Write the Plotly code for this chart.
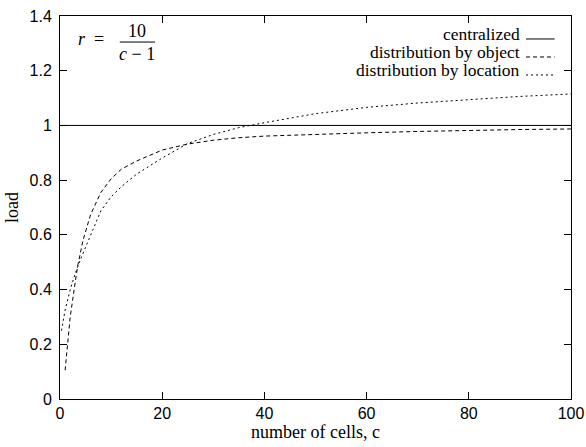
import plotly.graph_objects as go

# Data
c_central = [0, 100]
load_central = [1.0, 1.0]

c_object = [1, 2, 3, 3.5, 4.5, 6, 8, 10, 12, 15, 20, 25, 30, 35, 40, 50, 60, 70, 80, 90, 100]
load_object = [0.105, 0.30, 0.43, 0.49, 0.58, 0.675, 0.755, 0.805, 0.84, 0.87, 0.91, 0.932, 0.946, 0.955, 0.961, 0.968, 0.973, 0.978, 0.982, 0.985, 0.987]

c_location = [0.3, 1, 2, 3, 4, 5, 6, 8, 10, 12, 15, 20, 25, 30, 35, 40, 50, 60, 70, 80, 90, 100]
load_location = [0.25, 0.325, 0.40, 0.46, 0.51, 0.555, 0.605, 0.688, 0.739, 0.776, 0.822, 0.881, 0.934, 0.967, 0.992, 1.01, 1.043, 1.066, 1.082, 1.095, 1.106, 1.115]

legend_names = ["centralized", "distribution by object", "distribution by location"]
dashes = ["solid", "4px,3px", "2px,3px"]

fig = go.Figure()
series = [(c_central, load_central), (c_object, load_object), (c_location, load_location)]
for (xs, ys), name, d in zip(series, legend_names, dashes):
    fig.add_trace(go.Scatter(x=xs, y=ys, mode="lines", name=name, showlegend=False,
                             line=dict(color="black", width=1, dash=d)))

serif = "Liberation Serif, Times New Roman, serif"
sans = "Liberation Sans, Arial, sans-serif"

# manual gnuplot-style legend: text right-aligned, sample to the right
row_y = [0.952, 0.905, 0.858]
for name, d, yy in zip(legend_names, dashes, row_y):
    fig.add_annotation(xref="paper", yref="paper", x=0.905, y=yy, text=name, showarrow=False,
                       xanchor="right", yanchor="middle", font=dict(family=serif, size=17.5, color="black"))
    fig.add_shape(type="line", xref="paper", yref="paper", x0=0.912, x1=0.968, y0=yy - 0.012, y1=yy - 0.012,
                  line=dict(color="black", width=1, dash=d))

# formula annotation r = 10/(c-1)
fig.add_annotation(xref="paper", yref="paper", x=0.06, y=0.94, text="<i>r</i>  =", showarrow=False,
                   xanchor="center", yanchor="middle", font=dict(family=serif, size=18, color="black"))
fig.add_annotation(xref="paper", yref="paper", x=0.151, y=0.962, text="10", showarrow=False,
                   xanchor="center", yanchor="middle", font=dict(family=serif, size=18, color="black"))
fig.add_annotation(xref="paper", yref="paper", x=0.151, y=0.902, text="<i>c</i> − 1", showarrow=False,
                   xanchor="center", yanchor="middle", font=dict(family=serif, size=18, color="black"))
fig.add_shape(type="line", xref="paper", yref="paper", x0=0.117, x1=0.186, y0=0.932, y1=0.932,
              line=dict(color="black", width=1))

axis_common = dict(showgrid=False, zeroline=False, showline=True, linecolor="black", linewidth=1,
                   mirror="ticks", ticks="inside", ticklen=7, tickcolor="black", tickwidth=1,
                   tickfont=dict(family=sans, size=16, color="black"))

fig.update_xaxes(range=[0, 100], dtick=20, tick0=0,
                 title=dict(text="number of cells, c", font=dict(family=serif, size=18, color="black"), standoff=2),
                 **axis_common)
fig.update_yaxes(range=[0, 1.4], dtick=0.2, tick0=0, ticklabelstandoff=4,
                 title=dict(text="load", font=dict(family=serif, size=18, color="black"), standoff=6),
                 **axis_common)

fig.update_layout(width=586, height=447, margin=dict(l=60, r=15, t=16, b=48, autoexpand=False),
                  plot_bgcolor="white", paper_bgcolor="white")
fig.update_xaxes(automargin=False)
fig.update_yaxes(automargin=False)

fig.write_html("out.html")
